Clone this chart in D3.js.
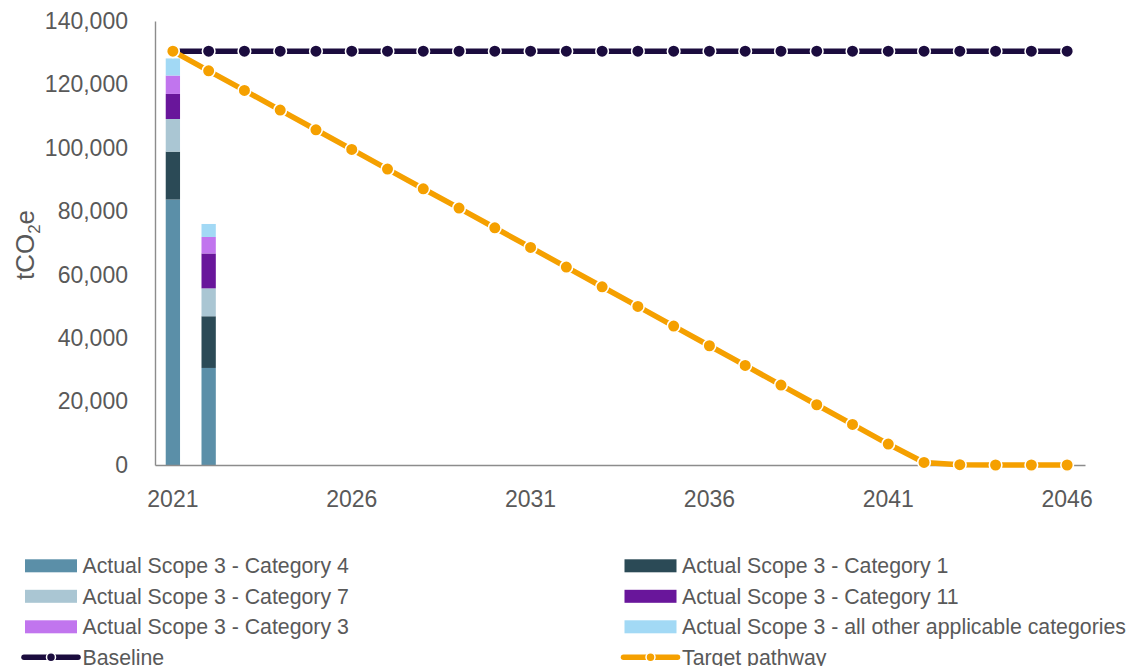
<!DOCTYPE html>
<html lang="en">
<head>
<meta charset="UTF-8">
<title>Scope 3 emissions vs target pathway</title>
<script src="https://cdn.jsdelivr.net/npm/d3@7"></script>
<style>
    body { margin: 0; background: #fff; font-family: "Liberation Sans", Arial, sans-serif; }
    svg { display: block; }
</style>
</head>
<body>
<div id="chart"></div>
<script>
const years = d3.range(2021, 2047).map(String);
const tickYears = ["2021", "2026", "2031", "2036", "2041", "2046"];
const yTicks = [0, 20000, 40000, 60000, 80000, 100000, 120000, 140000];

// stacked actuals (bottom to top)
const seriesNames = [
    "Actual Scope 3 - Category 4",
    "Actual Scope 3 - Category 1",
    "Actual Scope 3 - Category 7",
    "Actual Scope 3 - Category 11",
    "Actual Scope 3 - Category 3",
    "Actual Scope 3 - all other applicable categories"
];
const seriesColors = ["#5b8fa8", "#2b4a56", "#aac6d3", "#69169b", "#c175ee", "#a2d9f5"];
const barYears = ["2021", "2022"];
const cat4 = [83700, 30600];
const cat1 = [15100, 16300];
const cat7 = [10300, 8800];
const cat11 = [7900, 11000];
const cat3 = [5800, 5200];
const otherCats = [5400, 4100];

const baseline = [130500, 130500, 130500, 130500, 130500, 130500, 130500, 130500, 130500, 130500,
    130500, 130500, 130500, 130500, 130500, 130500, 130500, 130500, 130500, 130500,
    130500, 130500, 130500, 130500, 130500, 130500];
const target = [130500, 124300, 118100, 111900, 105700, 99500, 93300, 87100, 81000, 74800,
    68600, 62400, 56200, 50000, 43800, 37600, 31400, 25200, 19000, 12800,
    6600, 800, 100, 0, 0, 0];

const width = 1133, height = 666;
const margin = { top: 21, right: 48, bottom: 201, left: 155 };
const textColor = "#595959";

const svg = d3.select("#chart").append("svg")
    .attr("width", width)
    .attr("height", height);

const x = d3.scaleBand()
    .domain(years)
    .range([margin.left, width - margin.right])
    .padding(0);

const y = d3.scaleLinear()
    .domain([0, 140000])
    .range([height - margin.bottom, margin.top]);

// bars
const rows = barYears.map((yr, i) => ({
    year: yr,
    [seriesNames[0]]: cat4[i],
    [seriesNames[1]]: cat1[i],
    [seriesNames[2]]: cat7[i],
    [seriesNames[3]]: cat11[i],
    [seriesNames[4]]: cat3[i],
    [seriesNames[5]]: otherCats[i]
}));
const stacked = d3.stack().keys(seriesNames)(rows);
const barW = x.bandwidth() * 0.4;

svg.append("g")
    .selectAll("g")
    .data(stacked)
    .join("g")
    .attr("fill", (d, i) => seriesColors[i])
    .selectAll("rect")
    .data(d => d)
    .join("rect")
    .attr("x", d => x(d.data.year) + x.bandwidth() / 2 - barW / 2)
    .attr("width", barW)
    .attr("y", d => y(d[1]))
    .attr("height", d => y(d[0]) - y(d[1]));

// axes
const yAxis = svg.append("g")
    .attr("transform", `translate(${margin.left},0)`)
    .call(d3.axisLeft(y).tickValues(yTicks).tickFormat(d3.format(",")).tickSize(0).tickPadding(27));
yAxis.select(".domain").attr("stroke", "#8c8c8c").attr("stroke-width", 1.4);
yAxis.selectAll("text").attr("fill", textColor).style("font-size", "23px")
    .style("font-family", "'Liberation Sans', Arial, sans-serif");

const xAxis = svg.append("g")
    .attr("transform", `translate(0,${y(0)})`)
    .call(d3.axisBottom(x).tickValues(tickYears).tickSize(0).tickPadding(26));
xAxis.select(".domain").attr("stroke", "#8c8c8c").attr("stroke-width", 1.4);
xAxis.selectAll("text").attr("fill", textColor).style("font-size", "23px")
    .style("font-family", "'Liberation Sans', Arial, sans-serif");

// y title
const yTitle = svg.append("text")
    .attr("transform", `translate(34,${(y(0) + y(140000)) / 2 + 2}) rotate(-90)`)
    .attr("text-anchor", "middle")
    .attr("fill", textColor)
    .style("font-size", "26px");
yTitle.append("tspan").text("tCO");
yTitle.append("tspan").attr("dy", 6).style("font-size", "17px").text("2");
yTitle.append("tspan").attr("dy", -6).text("e");

// lines
function drawLine(values, color) {
    const pts = years.map((yr, i) => ({ year: yr, value: values[i] }));
    const g = svg.append("g");
    g.append("path")
        .datum(pts)
        .attr("fill", "none")
        .attr("stroke", color)
        .attr("stroke-width", 5.5)
        .attr("d", d3.line().x(d => x(d.year) + x.bandwidth() / 2).y(d => y(d.value)));
    g.selectAll("circle")
        .data(pts)
        .join("circle")
        .attr("cx", d => x(d.year) + x.bandwidth() / 2)
        .attr("cy", d => y(d.value))
        .attr("r", 6.3)
        .attr("fill", color)
        .attr("stroke", "#fff")
        .attr("stroke-width", 1.6);
}
drawLine(baseline, "#1b0c3e");
drawLine(target, "#f5a000");

// legend
const legendItems = [
    { name: seriesNames[0], color: seriesColors[0], type: "rect" },
    { name: seriesNames[1], color: seriesColors[1], type: "rect" },
    { name: seriesNames[2], color: seriesColors[2], type: "rect" },
    { name: seriesNames[3], color: seriesColors[3], type: "rect" },
    { name: seriesNames[4], color: seriesColors[4], type: "rect" },
    { name: seriesNames[5], color: seriesColors[5], type: "rect" },
    { name: "Baseline", color: "#1b0c3e", type: "line" },
    { name: "Target pathway", color: "#f5a000", type: "line" }
];
const colX = [25, 624.5];
const legend = svg.append("g")
    .selectAll("g")
    .data(legendItems)
    .join("g")
    .attr("transform", (d, i) => `translate(${colX[i % 2]},${565.8 + Math.floor(i / 2) * 30.5})`);

legend.filter(d => d.type === "rect").append("rect")
    .attr("x", 0).attr("y", -6.5)
    .attr("width", 52).attr("height", 13)
    .attr("fill", d => d.color);

const lineItems = legend.filter(d => d.type === "line");
lineItems.append("line")
    .attr("x1", -1).attr("x2", 53)
    .attr("stroke", d => d.color)
    .attr("stroke-width", 5.5)
    .attr("stroke-linecap", "round");
lineItems.append("circle")
    .attr("cx", 26).attr("r", 4.5)
    .attr("fill", d => d.color)
    .attr("stroke", "#fff").attr("stroke-width", 1.5);

legend.append("text")
    .attr("x", 57.5)
    .attr("dy", "0.35em")
    .attr("fill", textColor)
    .style("font-size", "21.3px")
    .text(d => d.name);
</script>
</body>
</html>
